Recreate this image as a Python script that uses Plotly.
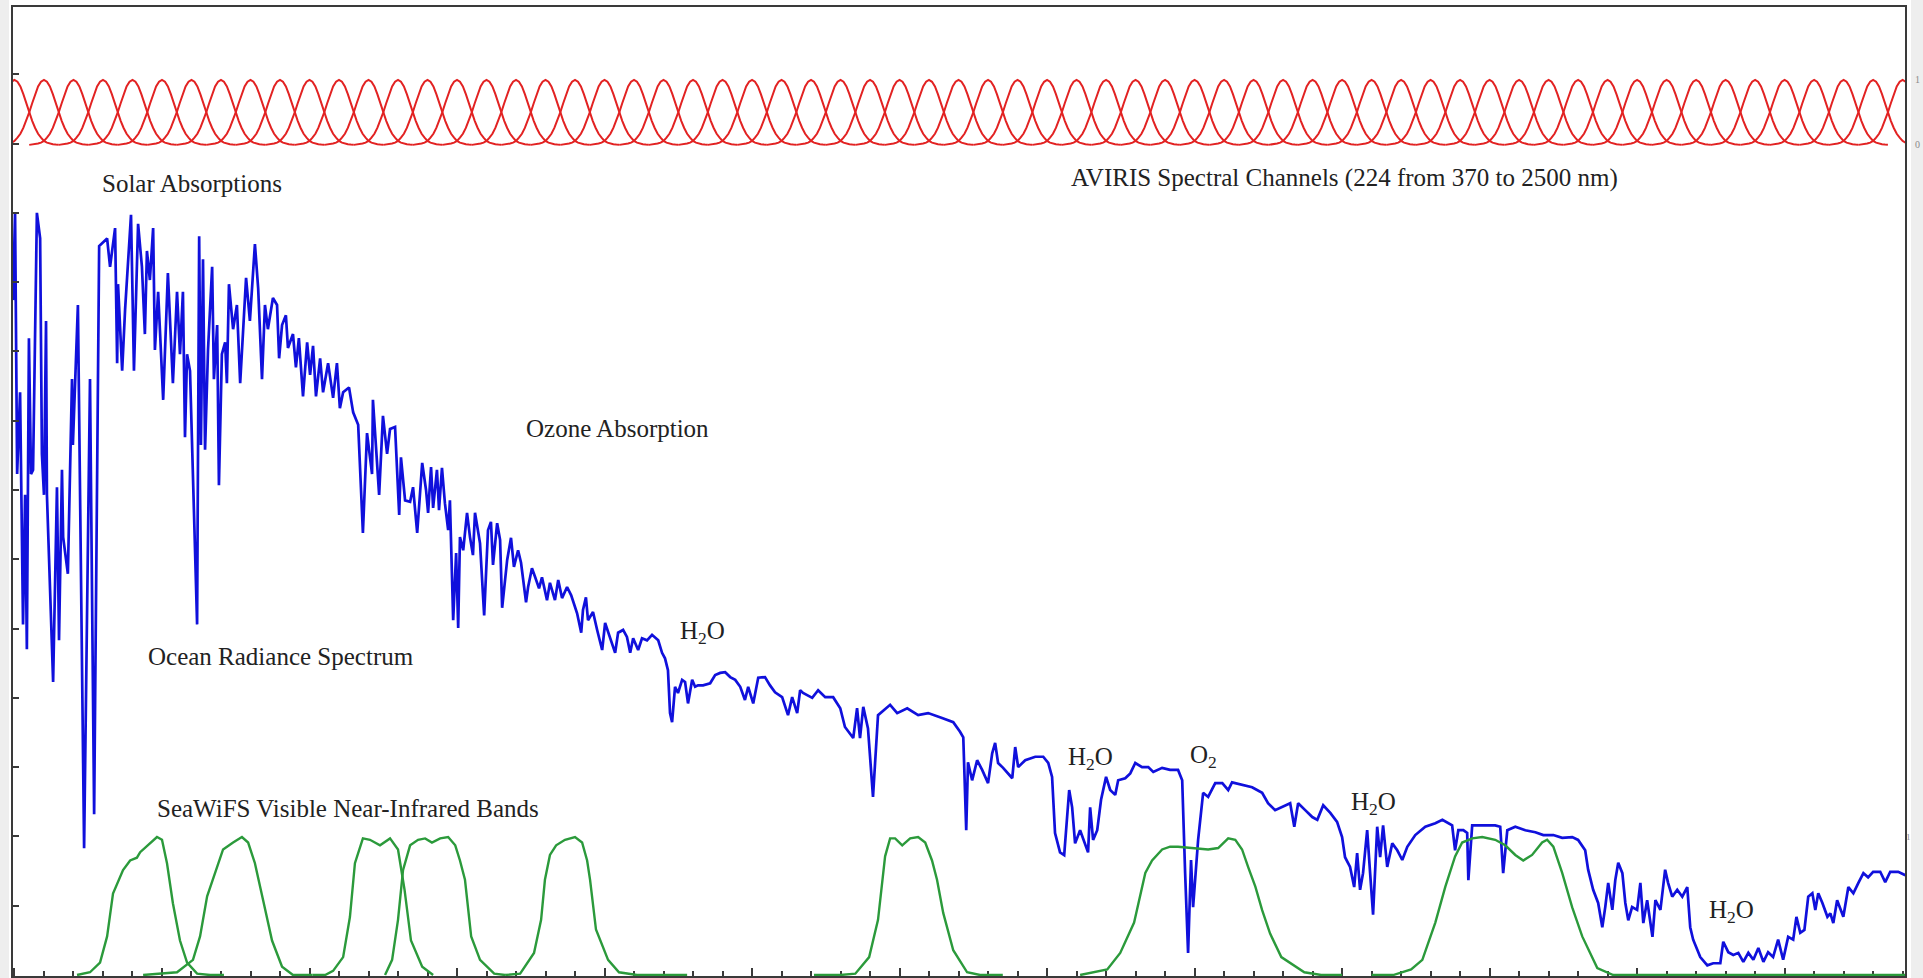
import plotly.graph_objects as go

# ---------------------------------------------------------------------------
# Ocean radiance spectrum (wavelength in nm, radiance in tick units)
# ---------------------------------------------------------------------------
wavelength_nm = [
    364.5, 365.2, 365.9, 366.9, 367.9, 368.6, 369.2, 369.9, 370.6, 371.3,
    372.6, 373.7, 374.3, 375.0, 375.7, 376.0, 378.1, 379.4, 380.1, 381.1,
    381.5, 383.1, 384.5, 384.8, 386.5, 388.6, 390.6, 392.0, 393.7, 396.4,
    397.4, 399.1, 399.8, 400.1, 401.5, 402.5, 404.5, 405.5, 406.9, 408.2,
    409.2, 409.9, 410.9, 412.0, 412.6, 413.7, 415.4, 417.0, 418.7, 420.1,
    421.1, 422.1, 422.8, 423.5, 424.5, 426.9, 427.6, 428.2, 428.9, 429.6,
    430.6, 432.0, 432.6, 433.7, 434.3, 435.3, 436.4, 437.0, 437.7, 439.1,
    440.4, 441.5, 443.5, 444.8, 446.5, 447.6, 448.9, 449.9, 450.9, 452.6,
    454.0, 454.7, 455.7, 457.0, 457.7, 459.4, 460.4, 461.4, 462.8, 464.2,
    465.2, 466.2, 467.2, 468.6, 469.6, 471.3, 473.0, 474.3, 475.3, 476.4,
    478.4, 479.8, 481.5, 483.1, 484.5, 486.2, 486.5, 488.6, 489.9, 491.3,
    492.3, 494.0, 495.4, 496.0, 497.4, 499.1, 500.1, 501.5, 503.2, 504.5,
    505.2, 506.2, 506.9, 508.2, 508.9, 509.9, 510.9, 512.0, 512.6, 513.7,
    514.7, 515.4, 516.0, 517.1, 518.4, 519.4, 520.4, 521.1, 522.8, 524.2,
    525.5, 526.5, 527.2, 528.6, 529.6, 530.3, 532.0, 533.3, 534.3, 535.7,
    536.7, 538.4, 539.1, 540.4, 541.5, 542.8, 543.8, 545.5, 546.5, 548.2,
    549.3, 550.6, 552.3, 553.7, 555.7, 557.1, 557.7, 558.7, 559.4, 561.1,
    562.5, 564.2, 565.2, 566.9, 568.6, 569.6, 571.3, 572.6, 573.7, 574.7,
    576.4, 577.7, 579.4, 581.1, 583.2, 584.5, 585.5, 586.5, 587.2, 587.9,
    588.9, 589.9, 591.3, 592.3, 593.3, 594.7, 595.7, 596.7, 598.4, 600.8,
    602.5, 604.2, 605.9, 607.6, 609.3, 611.0, 612.6, 613.7, 615.4, 617.1,
    619.4, 621.1, 622.8, 625.2, 627.2, 628.6, 630.3, 631.3,
    632.3, 635.4, 637.4, 639.8, 642.5, 644.9, 646.5, 649.3, 650.6, 651.6,
    652.7, 654.3, 656.0, 657.7, 661.8, 664.2, 667.6, 671.3, 674.7, 679.4,
    683.2, 685.5, 686.6, 687.6, 688.2, 689.6, 691.3, 693.0, 695.0, 696.4,
    697.4, 698.4, 700.1, 703.2, 704.2, 705.2, 707.6, 711.0, 713.7, 715.4,
    716.7, 717.7, 719.4, 720.8, 722.5, 723.5, 724.5, 726.2, 727.9, 728.9,
    729.6, 730.6, 732.0, 733.3, 735.0, 736.4, 738.1, 739.1, 741.5, 743.2,
    744.9, 747.2, 749.3, 751.0, 754.0, 756.7, 759.4, 760.8, 761.8, 762.8,
    763.8, 764.5, 766.2, 767.9,
    769.6, 772.0, 774.4, 776.4, 777.7, 781.1, 784.5, 787.9, 789.9, 792.3,
    795.7, 797.4, 798.8, 800.1, 802.5, 804.9, 806.6, 808.6, 811.0, 813.3,
    815.0, 816.0, 817.7, 819.1, 820.1, 821.1, 822.1, 823.5, 824.5, 825.5,
    826.9, 827.9, 828.9, 830.3, 832.0, 833.7, 835.4, 837.1, 839.8, 843.2,
    846.6, 849.0, 852.3, 853.3, 854.4, 856.1, 857.4, 857.8, 859.1, 862.5,
    866.9, 868.6, 869.6, 871.0, 873.7, 877.1, 880.5, 883.2, 886.6, 889.6,
    893.0, 895.0,
    897.4, 898.4, 900.1, 901.8, 903.2, 904.2, 905.2, 906.6, 907.6, 908.6,
    910.0, 911.0, 912.0, 913.3, 915.0, 916.1, 917.1, 918.4, 920.2, 921.2,
    922.9, 924.5, 925.5, 926.9, 928.6, 930.3, 932.0, 933.0, 934.0, 936.4,
    938.8, 940.8, 943.2, 944.2, 945.9, 947.6, 949.3, 951.0, 952.7, 954.4,
    956.1, 957.8, 959.4, 961.1, 962.8, 964.5, 966.2, 967.9, 969.0, 970.3,
    971.7, 973.0, 974.4, 975.4, 976.4, 977.8, 979.5, 980.5, 981.5, 982.8,
    983.9, 984.9, 986.6, 988.3, 990.0, 991.7, 993.3, 995.0, 997.4, 999.1,
    1000.8, 1003.5, 1005.9,
]

ocean_radiance = [
    9.74, 11.00, 7.23, 8.41, 5.06, 6.93, 4.70, 9.19, 7.23, 7.29,
    11.00, 10.63, 7.52, 6.93, 9.44, 6.93, 4.23, 7.04, 4.83, 7.29,
    6.32, 5.79, 8.60, 7.65, 9.67, 1.83, 8.60, 2.32, 10.52, 10.63,
    10.22, 10.78, 8.83, 9.97, 8.72, 9.61, 10.97, 8.72, 10.84, 10.22,
    9.25, 10.45, 10.03, 10.78, 9.02, 9.86, 8.30, 10.13, 8.54, 9.86,
    8.96, 9.86, 7.76, 8.96, 8.72, 5.06, 10.66, 7.65, 10.33, 7.58,
    9.02, 10.22, 8.60, 9.38, 7.07, 8.96, 9.13, 8.54, 9.97, 9.32,
    9.67, 8.54, 10.06, 9.44, 10.55, 9.91, 8.60, 9.67, 9.32, 9.77,
    9.67, 8.90, 9.38, 9.52, 9.05, 9.25, 8.77, 9.19, 8.35, 9.13,
    8.66, 9.08, 8.35, 8.90, 8.41, 8.83, 8.33, 8.83, 8.18, 8.41,
    8.48, 8.12, 7.94, 6.38, 7.82, 7.23, 8.30, 6.93, 8.07, 7.52,
    7.88, 7.91, 6.64, 7.47, 6.85, 6.83, 7.04, 6.38, 7.39, 7.00,
    6.67, 7.33, 6.74, 7.29, 6.71, 7.32, 6.81, 6.42, 6.85, 5.12,
    6.09, 5.01, 6.32, 6.13, 6.67, 6.32, 6.06, 6.67, 6.23, 5.19,
    6.42, 6.54, 5.92, 6.52, 6.28, 5.30, 5.99, 6.31, 5.89, 6.13,
    5.95, 5.38, 5.60, 5.87, 5.74, 5.58, 5.74, 5.41, 5.66, 5.41,
    5.70, 5.44, 5.60, 5.48, 5.22, 4.94, 5.27, 5.45, 5.12, 5.24,
    4.98, 4.69, 5.08, 4.88, 4.65, 4.94, 4.98, 4.88, 4.65, 4.86,
    4.69, 4.86, 4.83, 4.91, 4.83, 4.65, 4.57, 4.40, 3.78, 3.65,
    4.16, 4.07, 4.26, 4.23, 3.92, 4.26, 4.16, 4.18, 4.18, 4.21,
    4.33, 4.36, 4.37, 4.30, 4.26, 4.16, 3.97, 4.16, 3.92, 4.29,
    4.30, 4.18, 4.08, 4.01, 3.75, 4.01, 3.78, 4.11,
    4.07, 4.00, 4.11, 4.01, 4.01, 3.85, 3.58, 3.42, 3.85, 3.42,
    3.87, 3.56, 2.57, 3.75, 3.90, 3.78, 3.85, 3.75, 3.78, 3.71,
    3.65, 3.51, 3.43, 2.09, 3.07, 2.81, 3.10, 2.96, 2.77, 3.20,
    3.35, 3.06, 2.99, 2.84, 3.29, 3.00, 3.10, 3.15, 3.15, 3.06,
    2.86, 2.05, 1.77, 1.73, 2.67, 2.42, 1.90, 2.09, 1.88, 1.77,
    2.42, 1.95, 2.09, 2.53, 2.86, 2.67, 2.60, 2.81, 2.84, 2.91,
    3.06, 3.00, 3.00, 2.93, 2.99, 2.96, 2.96, 2.81, 1.47, 0.32,
    1.66, 0.98, 1.95, 2.63,
    2.57, 2.77, 2.77, 2.67, 2.78, 2.74, 2.71, 2.63, 2.48, 2.38,
    2.45, 2.48, 2.14, 2.48, 2.38, 2.28, 2.24, 2.45, 2.34, 2.21,
    1.99, 1.70, 1.56, 1.27, 1.76, 1.23, 1.47, 2.09, 1.47, 0.87,
    2.14, 1.70, 2.16, 1.56, 1.90, 1.80, 1.66, 1.85, 2.02, 2.14,
    2.19, 2.24, 2.16, 1.80, 2.09, 2.09, 2.05, 1.37, 2.16, 2.16,
    2.16, 2.14, 1.47, 2.09, 2.14, 2.09, 2.06, 2.02, 2.02, 1.98,
    1.99, 1.95,
    1.80, 1.52, 1.23, 1.04, 0.69, 0.98, 1.33, 0.94, 1.37, 1.62,
    1.47, 1.04, 0.79, 0.98, 0.94, 1.33, 0.75, 1.08, 0.55, 1.08,
    0.94, 1.52, 1.33, 1.13, 1.23, 1.13, 1.27, 0.69, 0.51, 0.26,
    0.14, 0.17, 0.17, 0.48, 0.33, 0.29, 0.32, 0.19, 0.32, 0.22,
    0.39, 0.19, 0.33, 0.26, 0.51, 0.22, 0.55, 0.51, 0.84, 0.61,
    0.65, 1.13, 1.18, 0.94, 1.18, 1.04, 0.84, 0.89, 0.75, 1.08,
    0.94, 0.84, 1.27, 1.18, 1.33, 1.47, 1.41, 1.49, 1.49, 1.34,
    1.49, 1.49, 1.44,
]

# ---------------------------------------------------------------------------
# SeaWiFS relative spectral response of the eight visible / NIR bands
# ---------------------------------------------------------------------------
band412_nm = [386.2, 390.6, 394.0, 396.4, 398.4, 401.8, 404.2, 406.5, 407.6, 410.3,
              413.3, 415.0, 416.7, 418.7, 421.1, 423.5, 426.9, 431.3, 436.0]
band412_rsr = [0, 0.02, 0.09, 0.28, 0.59, 0.76, 0.83, 0.85, 0.89, 0.94,
               1.00, 0.98, 0.81, 0.52, 0.25, 0.09, 0.01, 0, 0]

band443_nm = [408.6, 420.1, 425.5, 427.9, 430.3, 433.7, 435.7, 439.1, 442.1, 444.2,
              446.5, 449.3, 452.3, 455.7, 459.4, 466.0]
band443_rsr = [0, 0.02, 0.11, 0.28, 0.57, 0.78, 0.91, 0.96, 1.00, 0.96,
               0.81, 0.54, 0.25, 0.06, 0, 0]

band490_nm = [466.0, 470.3, 473.0, 476.4, 478.7, 480.4, 483.1, 485.5, 488.9, 492.3,
              495.0, 497.2, 499.4, 503.2, 506.9]
band490_rsr = [0, 0, 0.03, 0.13, 0.42, 0.81, 0.99, 0.98, 0.94, 0.99,
               0.91, 0.62, 0.25, 0.06, 0]

band510_nm = [490.6, 493.0, 495.0, 496.7, 499.1, 501.8, 504.2, 506.5, 509.3, 512.0,
              514.4, 516.0, 517.7, 519.8, 522.8, 527.6, 531.3]
band510_rsr = [0, 0.11, 0.40, 0.76, 0.94, 0.98, 0.99, 0.96, 0.99, 1.00,
               0.94, 0.83, 0.69, 0.28, 0.11, 0.01, 0]

band555_nm = [531.3, 536.4, 541.1, 543.5, 544.8, 546.5, 548.6, 551.6, 555.0, 557.4,
              559.1, 560.1, 562.1, 566.2, 569.9, 576.0, 593.0]
band555_rsr = [0, 0.01, 0.16, 0.40, 0.69, 0.87, 0.94, 0.98, 1.00, 0.96,
               0.83, 0.69, 0.33, 0.11, 0.02, 0, 0]

band670_nm = [636.0, 644.9, 650.0, 654.7, 657.7, 660.1, 661.8, 663.5, 665.9, 668.6,
              671.3, 673.7, 676.0, 677.7, 679.8, 683.2, 687.9, 692.3, 700.0]
band670_rsr = [0, 0, 0.01, 0.13, 0.40, 0.86, 0.99, 0.99, 0.94, 0.99,
               1.00, 0.96, 0.83, 0.69, 0.45, 0.18, 0.02, 0, 0]

band765_nm = [726.2, 735.4, 739.8, 744.5, 748.3, 750.6, 754.0, 756.7, 759.4, 765.2,
              769.6, 773.0, 776.4, 778.8, 781.1, 783.2, 785.6, 787.9, 790.6, 794.4,
              802.2, 807.9, 815.0]
band765_rsr = [0, 0.04, 0.16, 0.38, 0.74, 0.83, 0.91, 0.93, 0.93, 0.92,
               0.91, 0.92, 0.99, 0.98, 0.91, 0.78, 0.64, 0.47, 0.30, 0.13,
               0.02, 0, 0]

band865_nm = [825.0, 832.3, 838.4, 842.2, 846.6, 850.0, 853.3, 855.7, 859.1, 862.5,
              866.9, 870.3, 873.7, 876.4, 879.4, 882.8, 884.5, 886.6, 889.6, 893.0,
              896.4, 901.5, 906.9, 1010.0]
band865_rsr = [0, 0, 0.04, 0.11, 0.38, 0.64, 0.86, 0.96, 0.99, 1.00,
               0.98, 0.94, 0.87, 0.83, 0.87, 0.96, 0.98, 0.93, 0.74, 0.49,
               0.28, 0.05, 0, 0]

seawifs_bands = [
    (band412_nm, band412_rsr), (band443_nm, band443_rsr),
    (band490_nm, band490_rsr), (band510_nm, band510_rsr),
    (band555_nm, band555_rsr), (band670_nm, band670_rsr),
    (band765_nm, band765_rsr), (band865_nm, band865_rsr),
]

# ---------------------------------------------------------------------------
# AVIRIS channels: centre wavelengths and the normalised channel response
# (offset from the centre in nm, FWHM about 10 nm)
# ---------------------------------------------------------------------------
aviris_centers_nm = [
    365, 375, 385, 395, 405, 415, 425, 435, 445, 455,
    465, 475, 485, 495, 505, 515, 525, 535, 545, 555,
    565, 575, 585, 595, 605, 615, 625, 635, 645, 655,
    665, 675, 685, 695, 705, 715, 725, 735, 745, 755,
    765, 775, 785, 795, 805, 815, 825, 835, 845, 855,
    865, 875, 885, 895, 905, 915, 925, 935, 945, 955,
    965, 975, 985, 995, 1005,
]
channel_offset_nm = [-15, -14, -13, -12, -11, -10, -9, -8, -7, -6, -5, -4, -3, -2, -1, 0,
                     1, 2, 3, 4, 5, 6, 7, 8, 9, 10, 11, 12, 13, 14, 15]
channel_response = [0.0, 0.004, 0.01, 0.02, 0.035, 0.06, 0.11, 0.17, 0.26, 0.37, 0.50,
                    0.64, 0.78, 0.90, 0.97, 1.0, 0.97, 0.90, 0.78, 0.64, 0.50, 0.37,
                    0.26, 0.17, 0.11, 0.06, 0.035, 0.02, 0.01, 0.004, 0.0]

# Axis extents (wavelength in nm, each curve family on its own vertical scale)
X_RANGE = [364.5, 1005.8]
Y_RADIANCE_RANGE = [-0.014, 13.97]
Y_RSR_RANGE = [-0.007, 7.014]
Y_CHANNEL_RANGE = [-12.78, 2.12]

BLUE = "#1010dc"
GREEN = "#2b9a3b"
RED = "#e22222"
FRAME = "#3a3a3a"
TEXT = "#222222"
SIDE_STRIP = "#eeeeee"
SERIF = "Liberation Serif"

fig = go.Figure()

# SeaWiFS bands (green), drawn first so the spectrum sits on top
for nm, rsr in seawifs_bands:
    fig.add_trace(go.Scatter(x=nm, y=rsr, mode="lines", yaxis="y2",
                             line=dict(color=GREEN, width=2.4),
                             hoverinfo="skip"))

# Ocean radiance spectrum (blue)
fig.add_trace(go.Scatter(x=wavelength_nm, y=ocean_radiance, mode="lines",
                         line=dict(color=BLUE, width=2.7), hoverinfo="skip"))

# AVIRIS channel responses (red), one curve per channel separated by gaps
chan_x, chan_y = [], []
for c in aviris_centers_nm:
    for off, resp in zip(channel_offset_nm, channel_response):
        chan_x.append(c + off)
        chan_y.append(resp)
    chan_x.append(None)
    chan_y.append(None)
fig.add_trace(go.Scatter(x=chan_x, y=chan_y, mode="lines", yaxis="y3",
                         line=dict(color=RED, width=2.0), connectgaps=False,
                         hoverinfo="skip"))

# Labels
labels = [
    ("Solar Absorptions", 425.2, 11.43),
    ("AVIRIS Spectral Channels (224 from 370 to 2500 nm)", 815.7, 11.50),
    ("Ozone Absorption", 569.3, 7.89),
    ("Ocean Radiance Spectrum", 455.4, 4.59),
    ("SeaWiFS Visible Near-Infrared Bands", 478.1, 2.41),
    ("H<sub>2</sub>O", 598.1, 4.94),
    ("H<sub>2</sub>O", 729.6, 3.13),
    ("O<sub>2</sub>", 767.9, 3.15),
    ("H<sub>2</sub>O", 825.5, 2.47),
    ("H<sub>2</sub>O", 946.9, 0.91),
]
for text, lx, ly in labels:
    fig.add_annotation(x=lx, y=ly, xref="x", yref="y", text=text, showarrow=False,
                       xanchor="center", yanchor="middle",
                       font=dict(family=SERIF, size=25, color=TEXT))

# Light grey page edges either side of the frame
for x0, x1 in [(-0.0075, -0.0021), (1.0032, 1.0100)]:
    fig.add_shape(type="rect", xref="paper", yref="paper",
                  x0=x0, x1=x1, y0=-0.01, y1=1.01,
                  fillcolor=SIDE_STRIP, line=dict(width=0), layer="below")

fig.update_layout(
    width=1923, height=978,
    margin=dict(l=13, r=18, t=7, b=2),
    paper_bgcolor="white", plot_bgcolor="white",
    showlegend=False,
    xaxis=dict(range=X_RANGE, showgrid=False, zeroline=False,
               showline=True, linecolor=FRAME, linewidth=2, mirror=True,
               ticks="inside", tick0=415, dtick=50, ticklen=8, tickwidth=2,
               tickcolor=FRAME, showticklabels=False, layer="below traces",
               minor=dict(ticks="inside", tick0=375, dtick=10, ticklen=5,
                          tickwidth=1.5, tickcolor=FRAME, showgrid=False)),
    yaxis=dict(range=Y_RADIANCE_RANGE, showgrid=False, zeroline=False,
               showline=True, linecolor=FRAME, linewidth=2, mirror=True,
               ticks="inside", tick0=0, dtick=1, ticklen=6, tickwidth=2,
               tickcolor=FRAME, showticklabels=False),
    yaxis2=dict(range=Y_RSR_RANGE, overlaying="y", side="right",
                showgrid=False, zeroline=False, showline=False,
                tickvals=[1], ticktext=["1"], ticks="",
                tickfont=dict(family=SERIF, size=9, color="#8a8a8a")),
    yaxis3=dict(range=Y_CHANNEL_RANGE, overlaying="y", side="right",
                showgrid=False, zeroline=False, showline=False,
                tickvals=[0, 1], ticktext=["0", "1"], ticks="",
                ticklabelstandoff=9,
                tickfont=dict(family=SERIF, size=10, color="#8a8a8a")),
)

fig.write_html("out.html")
